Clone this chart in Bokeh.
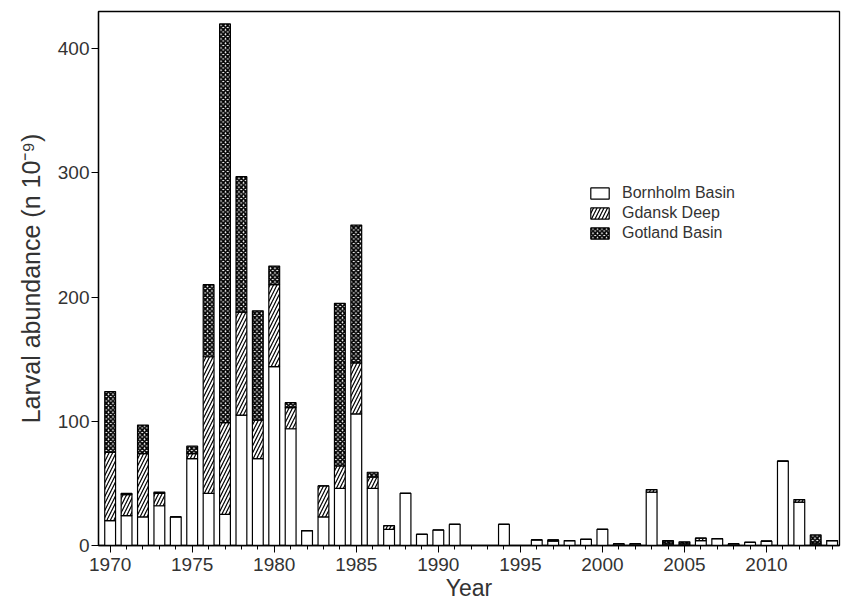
from bokeh.plotting import figure
from bokeh.models import Range1d, FixedTicker, Legend, LegendItem
from bokeh.embed import file_html
from bokeh.resources import INLINE

# Larval abundance (n 10^-9) per year and basin
years = list(range(1970, 2015))
bornholm = [20, 24, 23, 32, 23, 70, 42, 25, 105, 70,
            144, 94, 12, 23, 46, 106, 46, 13, 42, 9,
            12.5, 17, 0, 0, 17, 0, 4.5, 3.5, 4, 5,
            13, 1.3, 1.3, 43, 1, 1, 4, 5.5, 1.3, 2.5,
            3.5, 68, 35, 1, 4]
gdansk = [55, 17, 51, 10, 0, 4, 110, 74, 83, 31,
          66, 17, 0, 25, 18, 41, 9, 3, 0, 0,
          0, 0, 0, 0, 0, 0, 0, 1, 0, 0,
          0, 0, 0, 2, 1, 1, 2, 0, 0, 0,
          0, 0, 2, 1, 0]
gotland = [49, 1, 23, 1, 0, 6, 58, 321, 109, 88,
           15, 4, 0, 0, 131, 111, 4, 0, 0, 0,
           0, 0, 0, 0, 0, 0, 0, 0, 0, 0,
           0, 0, 0, 0, 2, 1, 0, 0, 0, 0,
           0, 0, 0, 6.5, 0]

basins = ["Bornholm Basin", "Gdansk Deep", "Gotland Basin"]
x_major = [1970, 1975, 1980, 1985, 1990, 1995, 2000, 2005, 2010]
y_major = [0, 100, 200, 300, 400]

FONT = "Liberation Sans"
TEXT = "#333333"

p = figure(width=841, height=609, output_backend="svg", toolbar_location=None,
           x_range=Range1d(1969.29, 2014.45), y_range=Range1d(0, 430))
p.min_border_left = 98
p.min_border_right = 2
p.min_border_top = 11
p.min_border_bottom = 64
p.background_fill_color = "white"
p.border_fill_color = "white"
p.outline_line_color = "black"
p.outline_line_width = 1.3
p.xgrid.visible = False
p.ygrid.visible = False

data = {"year": years, "b": bornholm, "g": gdansk, "o": gotland}
rs = p.vbar_stack(["b", "g", "o"], x="year", width=0.66, source=data,
                  fill_color="white",
                  line_color="black", line_width=1.2,
                  hatch_pattern=[" ", "right_diagonal_line", "diagonal_cross"],
                  hatch_color="black",
                  hatch_scale=[6, 7, 4.5], hatch_weight=[1, 1.2, 1.8])

legend = Legend(items=[LegendItem(label=basins[i], renderers=[rs[i]]) for i in range(3)],
                location=(490, 303), orientation="vertical")
legend.background_fill_alpha = 0
legend.border_line_alpha = 0
legend.padding = 0
legend.margin = 0
legend.spacing = 1
legend.glyph_width = 23
legend.glyph_height = 14
legend.label_height = 19
legend.label_standoff = 11
legend.label_text_font = FONT
legend.label_text_font_size = "16px"
legend.label_text_color = TEXT
p.add_layout(legend, "center")

xa = p.xaxis[0]
xa.ticker = FixedTicker(ticks=x_major, minor_ticks=years)
xa.axis_label = "Year"
ya = p.yaxis[0]
ya.ticker = FixedTicker(ticks=y_major, minor_ticks=[])
ya.axis_label = "Larval abundance (n 10\u207b\u2079)"

for ax in (xa, ya):
    ax.axis_line_color = "black"
    ax.axis_line_width = 1.3
    ax.major_tick_line_color = "black"
    ax.minor_tick_line_color = "black"
    ax.major_tick_in = 0
    ax.minor_tick_in = 0
    ax.major_tick_out = 7
    ax.minor_tick_out = 4
    ax.major_label_text_font = FONT
    ax.major_label_text_font_size = "19px"
    ax.major_label_text_color = TEXT
    ax.axis_label_text_font = FONT
    ax.axis_label_text_font_size = "23px"
    ax.axis_label_text_font_style = "normal"
    ax.axis_label_text_color = TEXT
ya.axis_label_text_font_size = "25px"
xa.major_label_standoff = 5
xa.axis_label_standoff = 1
ya.major_label_standoff = 2
ya.axis_label_standoff = 10

open("out.html", "w").write(file_html(p, INLINE))
